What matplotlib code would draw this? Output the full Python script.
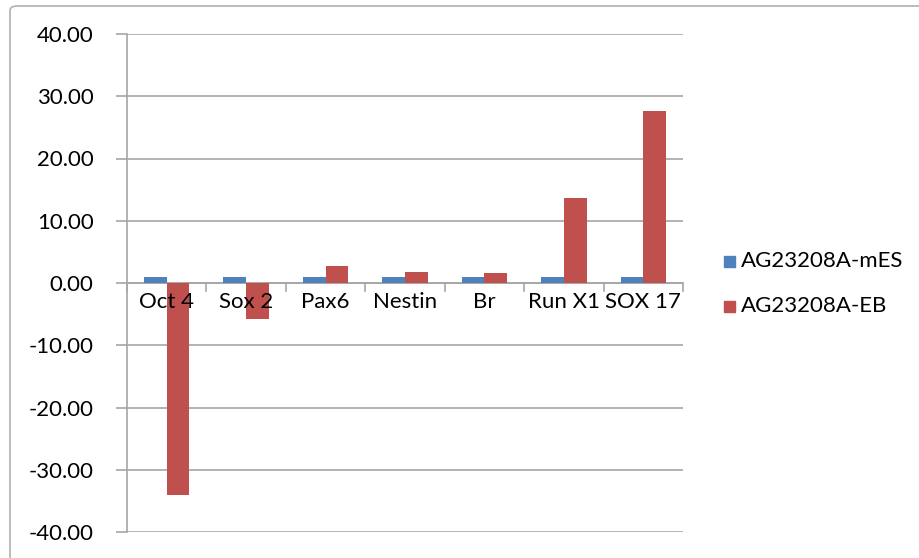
import matplotlib.pyplot as plt
import matplotlib.ticker as ticker
import numpy as np
from matplotlib.patches import FancyBboxPatch, Rectangle

categories = ["Oct 4", "Sox 2", "Pax6", "Nestin", "Br", "Run X1", "SOX 17"]
mes_values = [1.0, 1.0, 1.0, 1.0, 1.0, 1.0, 1.0]
eb_values = [-34.0, -5.8, 2.7, 1.8, 1.6, 13.6, 27.6]
series_names = ["AG23208A-mES", "AG23208A-EB"]
y_ticks = [-40, -30, -20, -10, 0, 10, 20, 30, 40]

BLUE = "#4F81BD"
RED = "#C0504D"
GRID = "#A6A6A6"
FS = 16

plt.rcParams["font.family"] = ["Lato", "DejaVu Sans"]

W, H = 920, 558
fig = plt.figure(figsize=(W / 100, H / 100), dpi=100)

# outer chart frame (right and bottom edges run off the canvas)
frame = FancyBboxPatch((10 / W, -20 / H), (W - 10 + 20) / W, (H - 6 + 20) / H,
                       boxstyle="round,pad=0,rounding_size=0.008",
                       transform=fig.transFigure, facecolor="white",
                       edgecolor="#B0B0B0", linewidth=1.2, zorder=-5)
fig.patches.append(frame)

ax = fig.add_axes([127 / W, 1 - 532 / H, (683 - 127) / W, (532 - 34) / H])
ax.set_facecolor("none")
ax.set_zorder(5)

x = np.arange(len(categories))
bw = 0.286
ax.bar(x - bw / 2, mes_values, bw, color=BLUE, zorder=3)
ax.bar(x + bw / 2, eb_values, bw, color=RED, zorder=3)

ax.set_xlim(-0.5, len(categories) - 0.5)
ax.set_ylim(-40, 40)
ax.set_yticks(y_ticks)
ax.yaxis.set_major_formatter(ticker.FormatStrFormatter("%.2f"))
ax.tick_params(axis="y", length=8, width=1.2, color=GRID, labelsize=FS,
               pad=16, labelcolor="#000000")
ax.set_xticks([])
ax.grid(axis="y", color=GRID, linewidth=1.2, zorder=1)

for side in ["top", "right", "bottom"]:
    ax.spines[side].set_visible(False)
ax.spines["left"].set_color(GRID)
ax.spines["left"].set_linewidth(1.2)

# category axis along zero
ax.axhline(0, color=GRID, linewidth=1.2, zorder=2)
for b in np.arange(len(categories) + 1) - 0.5:
    ax.plot([b, b], [0, -1.3], color=GRID, linewidth=1.2, zorder=2, clip_on=False)
for xi, lab in zip(x, categories):
    ax.text(xi, -1.5, lab, ha="center", va="top", fontsize=FS, zorder=4)

# legend
for i, (name, col) in enumerate(zip(series_names, [BLUE, RED])):
    yc = 1 - (261 + 45 * i) / H
    fig.patches.append(Rectangle((724 / W, yc - 5.5 / H), 11 / W, 11 / H,
                                 transform=fig.transFigure, color=col))
    fig.text(741 / W, yc, name, fontsize=FS, va="center", ha="left")

fig.savefig("out.png", dpi=100, facecolor="white")
